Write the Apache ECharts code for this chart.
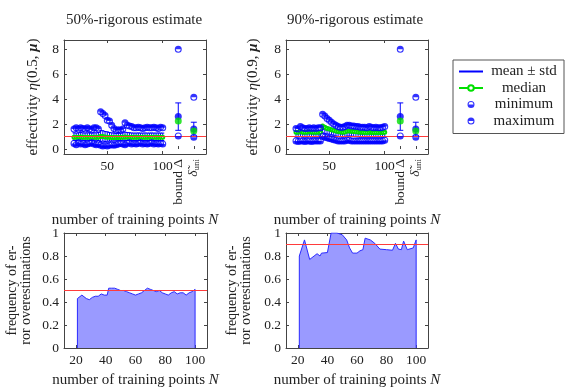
<!DOCTYPE html>
<html>
<head>
<meta charset="utf-8">
<script src="https://cdn.jsdelivr.net/npm/echarts@6/dist/echarts.min.js"></script>
<style>
html, body { margin: 0; padding: 0; background: #fff; }
#chart { width: 568px; height: 390px; }
</style>
</head>
<body>
<div id="chart"></div>
<script>
// training set sizes of the effectivity plots
const nTop = [20,22,24,26,28,30,32,34,36,38,40,42,44,46,48,50,52,54,56,58,60,62,64,66,68,70,72,74,76,78,80,82,84,86,88,90,92,94,96,98,100];

// 50%-rigorous estimate
const max50 = [1.6,1.7,1.6,1.7,1.65,1.6,1.7,1.6,1.55,1.7,1.7, 1.6,3.0,2.85,2.7,2.3,2.25,1.9,1.65,1.5,1.55, 1.5,1.6,2.1,1.9,1.85,1.8,1.7,1.7,1.75,1.7, 1.65,1.7,1.75,1.7,1.7,1.75,1.7,1.65,1.75,1.7];
const min50 = [0.45,0.35,0.5,0.4,0.45,0.35,0.4,0.45,0.5,0.4,0.35, 0.4,0.3,0.25,0.3,0.25,0.3,0.35,0.3,0.35,0.4, 0.45,0.4,0.35,0.45,0.5,0.4,0.45,0.4,0.45,0.5, 0.4,0.45,0.4,0.45,0.5,0.4,0.45,0.4,0.45,0.4];
const mean50 = [1.0,0.98,1.0,1.02,1.0,0.98,1.0,1.0,0.98,1.0,1.0, 1.0,1.05,1.05,1.0,1.0,0.98,0.97,0.96,0.96,0.97, 0.98,1.0,1.02,1.0,1.0,0.99,0.98,0.98,0.99,0.98, 0.98,0.99,0.98,0.98,0.99,0.98,0.98,0.99,0.98,0.98];
const std50 = [0.3,0.3,0.3,0.3,0.3,0.3,0.3,0.3,0.3,0.3,0.3, 0.32,0.45,0.42,0.4,0.38,0.35,0.33,0.32,0.3,0.3, 0.3,0.3,0.33,0.32,0.31,0.3,0.3,0.3,0.3,0.3, 0.3,0.3,0.3,0.3,0.3,0.3,0.3,0.3,0.3,0.3];
const median50 = [0.95,0.95,0.95,0.96,0.95,0.94,0.95,0.95,0.94,0.95,0.95, 0.95,1.0,1.0,0.96,0.95,0.94,0.93,0.92,0.92,0.93, 0.94,0.95,0.97,0.95,0.95,0.94,0.94,0.94,0.95,0.94, 0.94,0.95,0.94,0.94,0.95,0.94,0.94,0.95,0.94,0.94];

// 90%-rigorous estimate
const max90 = [1.65,1.6,1.8,1.7,1.65,1.65,1.7,1.65,1.7,1.65,1.7, 1.7,2.8,2.65,2.45,2.3,2.15,2.0,1.9,1.8,1.75, 1.75,1.8,1.9,1.9,1.85,1.85,1.8,1.8,1.75,1.75, 1.75,1.7,1.8,1.75,1.7,1.75,1.7,1.7,1.75,1.8];
const min90 = [0.65,0.6,0.65,0.65,0.6,0.65,0.65,0.6,0.65,0.65,0.65, 0.65,1.0,0.95,0.9,0.85,0.8,0.75,0.7,0.65,0.65, 0.65,0.65,0.7,0.7,0.65,0.65,0.65,0.65,0.65,0.65, 0.65,0.65,0.65,0.65,0.65,0.65,0.65,0.65,0.65,0.7];
const mean90 = [1.2,1.2,1.25,1.2,1.2,1.2,1.22,1.2,1.2,1.2,1.2, 1.2,1.6,1.55,1.5,1.45,1.4,1.35,1.3,1.25,1.22, 1.2,1.22,1.3,1.3,1.28,1.26,1.24,1.22,1.2,1.2, 1.2,1.2,1.2,1.2,1.2,1.2,1.2,1.2,1.2,1.22];
const std90 = [0.25,0.25,0.25,0.25,0.25,0.25,0.25,0.25,0.25,0.25,0.25, 0.25,0.3,0.3,0.28,0.27,0.26,0.25,0.25,0.25,0.25, 0.25,0.25,0.26,0.26,0.25,0.25,0.25,0.25,0.25,0.25, 0.25,0.25,0.25,0.25,0.25,0.25,0.25,0.25,0.25,0.25];
const median90 = [1.35,1.35,1.4,1.35,1.35,1.35,1.38,1.35,1.35,1.35,1.35, 1.35,1.85,1.75,1.65,1.6,1.55,1.5,1.45,1.4,1.37, 1.35,1.37,1.45,1.45,1.42,1.4,1.38,1.36,1.35,1.35, 1.33,1.33,1.35,1.33,1.33,1.33,1.33,1.33,1.33,1.35];

// the two reference estimators at the right end of the effectivity plots
const extraX = [114, 128];
const extraLabels = ['bound Δ', '{d|δ̃}{s|uni}'];
const extraMax = [8, 4.15];
const extraMin = [1.05, 0.95];
const extraMean = [2.6, 1.6];
const extraStd = [1.1, 0.55];
const extraMedian = [2.25, 1.45];

// frequency of error overestimations
const nBot50 = [21,22,24,25,27,29,31,33,35,37,39,41,42,44,46,48,50,52,54,56,58,60,62,64,66,68,70,72,74,76,78,80,82,84,86,88,90,92,94,96,98,100];
const freq50 = [0.43,0.44,0.46,0.45,0.43,0.42,0.44,0.45,0.45,0.47,0.46,0.46,0.52,0.52,0.52,0.51,0.50,0.50,0.49,0.48,0.47,0.46,0.47,0.48,0.50,0.52,0.51,0.50,0.49,0.50,0.48,0.47,0.46,0.48,0.49,0.47,0.48,0.48,0.46,0.48,0.49,0.51];
const nBot90 = [21,22,24.5,28,31,33,35,36,40,41,42.5,46.5,50,53,55,57,60,62,64,65.5,69,72,75.5,80,84,86,88,90,91.5,94,98,100];
const freq90 = [0.80,0.80,0.94,0.77,0.80,0.82,0.80,0.825,0.83,0.84,1.0,1.0,0.985,0.94,0.87,0.825,0.825,0.845,0.855,0.955,0.94,0.91,0.86,0.855,0.85,0.91,0.86,0.855,0.93,0.855,0.87,0.94];

const topTicksX = [50, 100];
const topTicksY = [0, 2, 4, 6, 8];
const botTicksX = [20, 40, 60, 80, 100];
const refLine50 = 0.5, refLine90 = 0.9, refLineTop = 1;

const FONT = 'Liberation Serif';
const TXT = '#222';
const FRAME = '#444';
const BLUE = '#0000ff';
const GREEN = '#00e000';
const RED = '#ff3b3b';

// ring with the lower / upper half filled (nonzero winding)
const halfLow = 'path://M0,-10A10,10 0 1,1 0,10A10,10 0 1,1 0,-10Z M0,-7A7,7 0 1,0 0,7A7,7 0 1,0 0,-7Z M7,0A7,7 0 0,1 -7,0Z';
const halfUp = 'path://M0,-10A10,10 0 1,1 0,10A10,10 0 1,1 0,-10Z M0,-7A7,7 0 1,0 0,7A7,7 0 1,0 0,-7Z M-7,0A7,7 0 0,1 7,0Z';

const label = { fontFamily: FONT, fontSize: 13.5, color: TXT };
const nameFont = { fontFamily: FONT, fontSize: 15, color: TXT };
const tick = (vals) => {
  const t = { show: true, inside: true, length: 3, lineStyle: { color: FRAME } };
  if (vals) t.customValues = vals;
  return t;
};
const line = { show: true, onZero: false, lineStyle: { color: FRAME, width: 1 } };
const richName = {
  i: Object.assign({ fontStyle: 'italic' }, nameFont),
  b: Object.assign({ fontStyle: 'italic', fontWeight: 'bold' }, nameFont)
};

function xMain(grid, min, max, vals, name, gap) {
  return {
    gridIndex: grid, type: 'value', min, max, position: 'bottom',
    axisLine: line, axisTick: tick(vals), splitLine: { show: false },
    axisLabel: Object.assign({ customValues: vals, margin: 5 }, label),
    name, nameLocation: 'middle', nameGap: gap,
    nameTextStyle: Object.assign({ rich: richName }, nameFont)
  };
}
function xMirror(grid, min, max, vals) {
  return { gridIndex: grid, type: 'value', min, max, position: 'top',
    axisLine: line, axisTick: tick(vals), axisLabel: { show: false }, splitLine: { show: false } };
}
function xExtra(grid, min, max) {
  return {
    gridIndex: grid, type: 'value', min, max, position: 'bottom',
    axisLine: { show: false }, axisTick: tick(extraX), splitLine: { show: false },
    axisLabel: Object.assign({
      customValues: extraX, rotate: 90, margin: 5,
      formatter: v => extraLabels[extraX.indexOf(v)],
      rich: {
        d: { fontFamily: FONT, fontSize: 13.5, fontStyle: 'italic', color: TXT },
        s: { fontFamily: FONT, fontSize: 9, color: TXT, verticalAlign: 'bottom', padding: [6, 0, 0, 0] }
      }
    }, label)
  };
}
function yTop(grid, name, gap) {
  return {
    gridIndex: grid, type: 'value', min: -0.4, max: 8.75, position: 'left',
    axisLine: line, axisTick: tick(topTicksY), splitLine: { show: false },
    axisLabel: Object.assign({ customValues: topTicksY, margin: 5 }, label),
    name, nameLocation: 'middle', nameGap: gap,
    nameTextStyle: Object.assign({ rich: richName }, nameFont)
  };
}
function yBot(grid, gap) {
  return {
    gridIndex: grid, type: 'value', min: 0, max: 1, interval: 0.2, position: 'left',
    axisLine: line, axisTick: tick(), splitLine: { show: false },
    axisLabel: Object.assign({ margin: 5 }, label),
    name: 'frequency of er-\nror overestimations', nameLocation: 'middle', nameGap: gap,
    nameTextStyle: Object.assign({ lineHeight: 13.5 }, nameFont, { fontSize: 14 })
  };
}
function yMirror(grid, min, max, vals, interval) {
  const ax = { gridIndex: grid, type: 'value', min, max, position: 'right',
    axisLine: line, axisTick: tick(vals), axisLabel: { show: false }, splitLine: { show: false } };
  if (interval) ax.interval = interval;
  return ax;
}

function errBars(xi, yi, xs, mean, std, cap) {
  return {
    type: 'custom', xAxisIndex: xi, yAxisIndex: yi, silent: true, z: 2,
    data: xs.map((x, i) => [x, mean[i] - std[i], mean[i] + std[i]]),
    renderItem(params, api) {
      const lo = api.coord([api.value(0), api.value(1)]);
      const hi = api.coord([api.value(0), api.value(2)]);
      const st = { stroke: BLUE, lineWidth: 1 };
      return { type: 'group', children: [
        { type: 'line', shape: { x1: lo[0], y1: lo[1], x2: hi[0], y2: hi[1] }, style: st },
        { type: 'line', shape: { x1: lo[0] - cap, y1: lo[1], x2: lo[0] + cap, y2: lo[1] }, style: st },
        { type: 'line', shape: { x1: hi[0] - cap, y1: hi[1], x2: hi[0] + cap, y2: hi[1] }, style: st }
      ] };
    }
  };
}

function topSeries(xi, yi, mx, mn, mean, std, med) {
  const pairs = (xs, ys) => xs.map((x, i) => [x, ys[i]]);
  return [
    { name: 'mean ± std', type: 'line', xAxisIndex: xi, yAxisIndex: yi, data: pairs(nTop, mean),
      symbol: 'none', lineStyle: { color: BLUE, width: 1 }, itemStyle: { color: BLUE }, z: 3,
      markLine: { silent: true, symbol: 'none', label: { show: false },
        lineStyle: { color: RED, width: 1, type: 'solid' }, data: [{ yAxis: refLineTop }] } },
    errBars(xi, yi, nTop, mean, std, 1.5),
    errBars(xi, yi, extraX, extraMean, extraStd, 3),
    { type: 'scatter', xAxisIndex: xi, yAxisIndex: yi, data: pairs(extraX, extraMean),
      symbol: 'circle', symbolSize: 7, itemStyle: { color: BLUE }, z: 4 },
    { name: 'median', type: 'line', xAxisIndex: xi, yAxisIndex: yi, data: pairs(nTop, med),
      symbol: 'emptyCircle', symbolSize: 3, lineStyle: { color: GREEN, width: 1 },
      itemStyle: { color: GREEN, borderColor: GREEN, borderWidth: 1 }, z: 4 },
    { type: 'scatter', xAxisIndex: xi, yAxisIndex: yi, data: pairs(extraX, extraMedian),
      symbol: 'circle', symbolSize: 7, itemStyle: { color: GREEN }, z: 5 },
    { name: 'minimum', type: 'scatter', xAxisIndex: xi, yAxisIndex: yi,
      data: pairs(nTop, mn).concat(pairs(extraX, extraMin)),
      symbol: halfLow, symbolSize: 7, itemStyle: { color: BLUE }, z: 6 },
    { name: 'maximum', type: 'scatter', xAxisIndex: xi, yAxisIndex: yi,
      data: pairs(nTop, mx).concat(pairs(extraX, extraMax)),
      symbol: halfUp, symbolSize: 7, itemStyle: { color: BLUE }, z: 6 }
  ];
}

function botSeries(xi, yi, xs, ys, ref) {
  const data = [[xs[0], 0]].concat(xs.map((x, i) => [x, ys[i]]), [[xs[xs.length - 1], 0]]);
  return {
    type: 'line', xAxisIndex: xi, yAxisIndex: yi, data, symbol: 'none',
    lineStyle: { color: '#2a2aff', width: 1 }, areaStyle: { color: '#9a9aff', opacity: 1 },
    markLine: { silent: true, symbol: 'none', label: { show: false },
      lineStyle: { color: RED, width: 1, type: 'solid' }, data: [{ yAxis: ref }] }
  };
}

const TX0 = 11, TX1 = 139;
const BX0 = 12, BX1 = 108;
const xName = 'number of training points {i|N}';
const titleStyle = { font: '15px "Liberation Serif"', fill: TXT, textAlign: 'center', textVerticalAlign: 'middle' };

const chart = echarts.init(document.getElementById('chart'));
chart.setOption({
  animation: false,
  backgroundColor: '#fff',
  graphic: [
    { type: 'text', x: 134, y: 20, style: Object.assign({ text: '50%-rigorous estimate' }, titleStyle) },
    { type: 'text', x: 355, y: 20, style: Object.assign({ text: '90%-rigorous estimate' }, titleStyle) }
  ],
  legend: {
    orient: 'vertical', left: 453, top: 60, itemWidth: 24, itemHeight: 7, itemGap: 1.5,
    padding: [4, 4, 5, 5], borderColor: '#555', borderWidth: 1, backgroundColor: '#fff',
    textStyle: { fontFamily: FONT, fontSize: 15, color: TXT,
      rich: { c: { fontFamily: FONT, fontSize: 15, color: TXT, width: 72, align: 'center', lineHeight: 17 } } },
    formatter: name => '{c|' + name + '}',
    data: [{ name: 'mean ± std', itemStyle: { opacity: 0 } }, 'median', 'minimum', 'maximum']
  },
  grid: [
    { left: 64, top: 40, width: 142, height: 114, outerBoundsMode: 'none' },
    { left: 286, top: 40, width: 142, height: 114, outerBoundsMode: 'none' },
    { left: 64, top: 233, width: 143, height: 115, outerBoundsMode: 'none' },
    { left: 286, top: 233, width: 142, height: 115, outerBoundsMode: 'none' }
  ],
  xAxis: [
    xMain(0, TX0, TX1, topTicksX, xName, 59),
    xMirror(0, TX0, TX1, topTicksX),
    xExtra(0, TX0, TX1),
    xMain(1, TX0, TX1, topTicksX, xName, 59),
    xMirror(1, TX0, TX1, topTicksX),
    xExtra(1, TX0, TX1),
    xMain(2, BX0, BX1, botTicksX, xName, 25),
    xMirror(2, BX0, BX1, botTicksX),
    xMain(3, BX0, BX1, botTicksX, xName, 25),
    xMirror(3, BX0, BX1, botTicksX)
  ],
  yAxis: [
    yTop(0, 'effectivity {i|η}(0.5, {b|μ})', 23),
    yMirror(0, -0.4, 8.75, topTicksY),
    yTop(1, 'effectivity {i|η}(0.9, {b|μ})', 25),
    yMirror(1, -0.4, 8.75, topTicksY),
    yBot(2, 31),
    yMirror(2, 0, 1, null, 0.2),
    yBot(3, 33),
    yMirror(3, 0, 1, null, 0.2)
  ],
  series: [].concat(
    topSeries(0, 0, max50, min50, mean50, std50, median50),
    topSeries(3, 2, max90, min90, mean90, std90, median90),
    [botSeries(6, 4, nBot50, freq50, refLine50),
     botSeries(8, 6, nBot90, freq90, refLine90)]
  )
});
</script>
</body>
</html>
